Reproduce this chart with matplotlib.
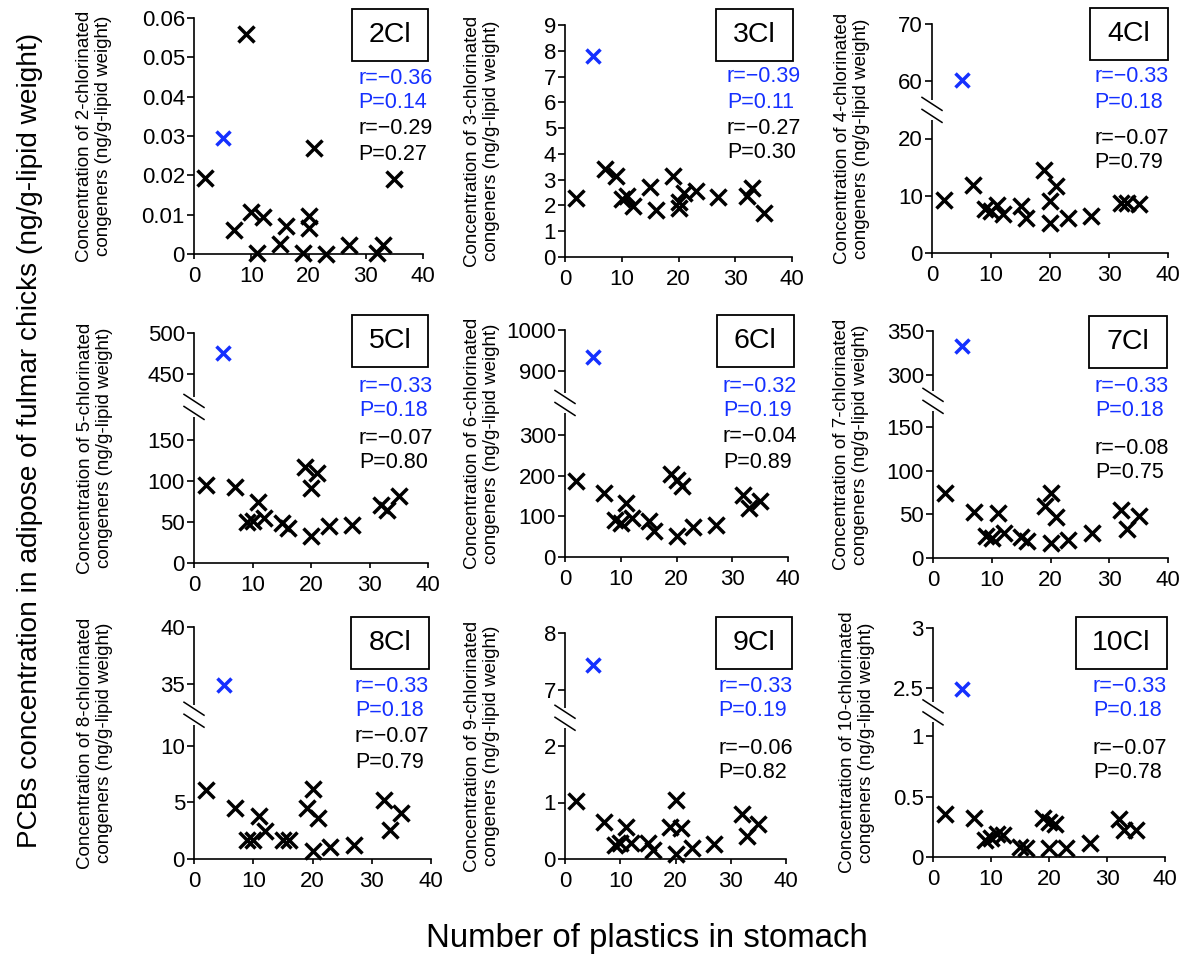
import numpy as np
import matplotlib
matplotlib.use('Agg')
import matplotlib.pyplot as plt
from matplotlib.patches import Rectangle
from matplotlib.lines import Line2D

plt.rcParams['font.family'] = ['Liberation Sans', 'DejaVu Sans']

# number of plastics in stomach (17 chicks + 1 outlier chick)
plastics = [2, 7, 9, 10, 11, 12, 15, 16, 19, 20, 20, 21, 23, 27, 32, 33, 35]
outlier_plastics = 5

names = ['2Cl', '3Cl', '4Cl', '5Cl', '6Cl', '7Cl', '8Cl', '9Cl', '10Cl']

cl2 = [0.0193, 0.0062, 0.056, 0.0106, 0.0002, 0.0093, 0.0026, 0.0072, 0.0002,
       0.0097, 0.0065, 0.027, 0.0001, 0.0023, 0.0003, 0.0024, 0.019]
cl3 = [2.3, 3.4, 3.15, 2.25, 2.38, 1.96, 2.72, 1.82, 3.13, 2.15, 1.9, 2.5,
       2.55, 2.33, 2.38, 2.68, 1.7]
cl4 = [9.3, 11.9, 7.6, 7.3, 8.3, 6.8, 8.2, 6.1, 14.5, 9.0, 5.3, 11.7, 6.2,
       6.4, 8.7, 8.7, 8.5]
cl5 = [94.7, 92.7, 50.4, 51.2, 74.4, 54.5, 49.2, 43, 117, 91, 33, 109, 45,
       46.3, 70.7, 64, 81.7]
cl6 = [188, 157, 92, 84, 134, 97, 90, 64, 205, 190, 51, 176, 75, 80, 152,
       121, 139]
cl7 = [74.6, 53, 25.6, 23, 51.6, 28.7, 24, 19, 60, 74.6, 17, 47, 21, 28.7,
       55.5, 33, 48.6]
cl8 = [6.1, 4.5, 1.65, 1.7, 3.8, 2.5, 1.65, 1.65, 4.5, 6.2, 0.75, 3.6, 1.05,
       1.26, 5.2, 2.6, 4.1]
cl9 = [1.02, 0.65, 0.24, 0.28, 0.56, 0.28, 0.28, 0.16, 0.56, 1.04, 0.08,
       0.55, 0.19, 0.27, 0.8, 0.41, 0.62]
cl10 = [0.354, 0.326, 0.14, 0.16, 0.19, 0.18, 0.084, 0.075, 0.326, 0.29,
        0.075, 0.27, 0.075, 0.12, 0.318, 0.22, 0.22]
conc = [cl2, cl3, cl4, cl5, cl6, cl7, cl8, cl9, cl10]
outlier_conc = [0.0295, 7.8, 60.3, 476, 933, 333, 34.9, 7.43, 2.49]

# correlation with all chicks (blue) and without the outlier (black)
r_all = ['\u22120.36', '\u22120.39', '\u22120.33', '\u22120.33', '\u22120.32',
         '\u22120.33', '\u22120.33', '\u22120.33', '\u22120.33']
p_all = ['0.14', '0.11', '0.18', '0.18', '0.19', '0.18', '0.18', '0.19', '0.18']
r_excl = ['\u22120.29', '\u22120.27', '\u22120.07', '\u22120.07', '\u22120.04',
          '\u22120.08', '\u22120.07', '\u22120.06', '\u22120.07']
p_excl = ['0.27', '0.30', '0.79', '0.80', '0.89', '0.75', '0.79', '0.82', '0.78']

yticks = [[0, 0.01, 0.02, 0.03, 0.04, 0.05, 0.06],
          [0, 1, 2, 3, 4, 5, 6, 7, 8, 9],
          [0, 10, 20, 60, 70],
          [0, 50, 100, 150, 450, 500],
          [0, 100, 200, 300, 900, 1000],
          [0, 50, 100, 150, 300, 350],
          [0, 5, 10, 35, 40],
          [0, 1, 2, 7, 8],
          [0, 0.5, 1, 2.5, 3]]
ytop = [0.06, 9, 70, 500, 1000, 350, 40, 8, 3]
# axis break: (break point, removed span) or None
breaks = [None, None, (25, 30), (190, 220), (380, 440), (180, 90),
          (12.75, 19.5), (2.5, 4), (1.2, 1.1)]

# layout in pixels (figure 1187 x 959)
W, H = 1187, 959
axes_px = [(194, 423, 18, 254), (565, 792, 25, 257), (932, 1168, 24, 253),
           (194, 428, 333, 563), (565, 788, 330, 557), (933, 1168, 331, 558),
           (194, 431, 627, 859), (565, 786, 633, 859), (933, 1165, 628, 857)]
ylab_x = [94, 482, 852, 95, 482, 851, 95, 482, 857]
stat_px = [(358, 78, 129), (727, 77, 128), (1094, 77, 138),
           (359, 386, 438), (723, 386, 437), (1095, 386, 448),
           (355, 686, 737), (718, 686, 748), (1093, 686, 748)]
box_px = [(390, 35, 76), (754, 35, 77), (1129, 34, 78),
          (390, 341, 76), (755, 341, 77), (1128, 342, 78),
          (390, 643, 78), (754, 643, 76), (1121, 643, 91)]
blue = '#1530ff'


def fmt(v):
    return ('%g' % v)


def break_funcs(b, shift):
    def fwd(v):
        v = np.asarray(v, dtype=float)
        return np.where(v <= b, v, np.where(v >= b + shift, v - shift, b))

    def inv(u):
        u = np.asarray(u, dtype=float)
        return np.where(u <= b, u, u + shift)
    return fwd, inv


fig = plt.figure(figsize=(W / 100, H / 100), dpi=100)

for i in range(9):
    l, r, t, b = axes_px[i]
    wpx, hpx = r - l, b - t
    ax = fig.add_axes([l / W, 1 - b / H, wpx / W, hpx / H])
    ax.plot(plastics, conc[i], 'x', color='black', ms=11, mew=2.5, clip_on=False)
    ax.plot([outlier_plastics], [outlier_conc[i]], 'x', color=blue, ms=10,
            mew=2.5, clip_on=False)
    if breaks[i] is not None:
        ax.set_yscale('function', functions=break_funcs(*breaks[i]))
    ax.set_xlim(0, 40)
    ax.set_ylim(0, ytop[i])
    ax.set_xticks([0, 10, 20, 30, 40])
    ax.set_yticks(yticks[i])
    ax.set_yticklabels([fmt(v) for v in yticks[i]])
    ax.spines['top'].set_visible(False)
    ax.spines['right'].set_visible(False)
    for s in ['left', 'bottom']:
        ax.spines[s].set_linewidth(1.2)
    ax.tick_params(axis='both', labelsize=16, width=1.2, direction='out')
    ax.tick_params(axis='y', length=5, pad=1.5)
    ax.tick_params(axis='x', length=3.5, pad=5)
    ax.minorticks_off()

    if breaks[i] is not None:
        bb, sh = breaks[i]
        fwd, _ = break_funcs(bb, sh)
        yb = bb / float(fwd(ytop[i]))
        ax.add_patch(Rectangle((-3 / wpx, yb - 10 / hpx), 6 / wpx, 20 / hpx,
                               transform=ax.transAxes, facecolor='white',
                               edgecolor='none', clip_on=False, zorder=5))
        for d in (6, -6):
            ax.add_line(Line2D([-10 / wpx, 10 / wpx],
                               [yb + (d + 6.5) / hpx, yb + (d - 6.5) / hpx],
                               transform=ax.transAxes, color='black', lw=1.1,
                               clip_on=False, zorder=6))

    num = names[i].replace('Cl', '')
    fig.text(ylab_x[i] / W, 1 - (t + b) / 2 / H,
             'Concentration of %s-chlorinated\ncongeners (ng/g-lipid weight)' % num,
             rotation=90, ha='center', va='center', fontsize=13.5,
             linespacing=1.15)

    sx, yr1, yr2 = stat_px[i]
    fig.text(sx / W, 1 - yr1 / H, 'r=' + r_all[i], color=blue, fontsize=15.5,
             ha='left', va='center')
    fig.text(sx / W, 1 - (yr1 + 25) / H, 'P=' + p_all[i], color=blue,
             fontsize=15.5, ha='left', va='center')
    fig.text(sx / W, 1 - yr2 / H, 'r=' + r_excl[i], color='black',
             fontsize=15.5, ha='left', va='center')
    fig.text(sx / W, 1 - (yr2 + 25) / H, 'P=' + p_excl[i], color='black',
             fontsize=15.5, ha='left', va='center')

    cx, cy, bw = box_px[i]
    fig.add_artist(Rectangle(((cx - bw / 2) / W, 1 - (cy + 26) / H), bw / W,
                             52 / H, transform=fig.transFigure, fill=False,
                             lw=1.3, edgecolor='black'))
    fig.text(cx / W, 1 - cy / H, names[i], fontsize=20.5, ha='center',
             va='center')

fig.text(30 / W, 1 - 440 / H,
         'PCBs concentration in adipose of fulmar chicks (ng/g-lipid weight)',
         rotation=90, ha='center', va='center', fontsize=20.2)
fig.text(647 / W, 1 - 938 / H, 'Number of plastics in stomach',
         ha='center', va='center', fontsize=23.8)

fig.savefig('out.png', dpi=100, facecolor='white')
